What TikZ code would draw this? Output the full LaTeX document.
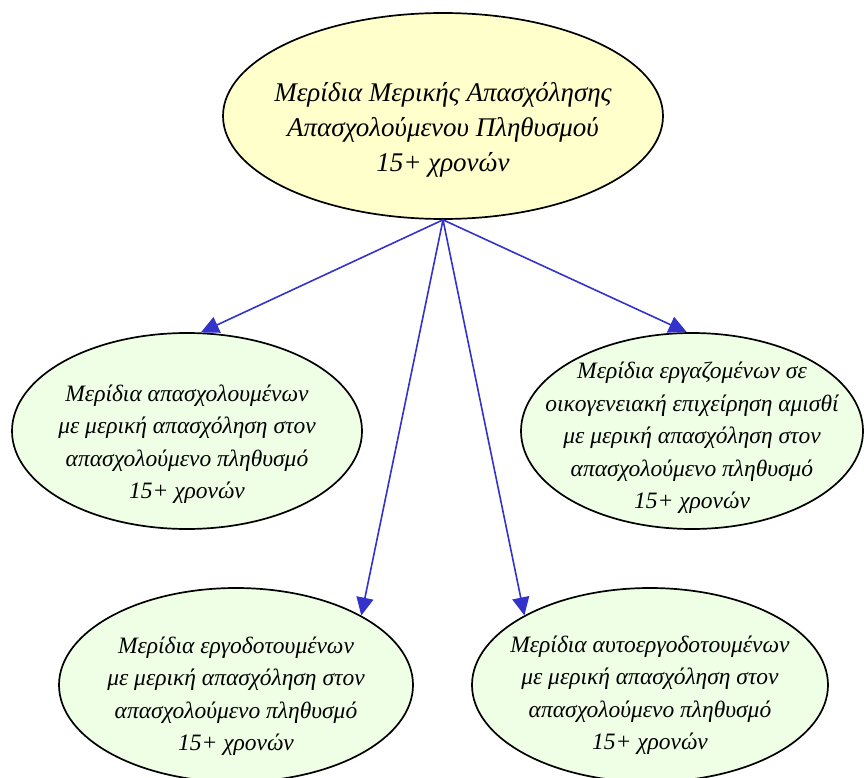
\documentclass[tikz,border=0pt]{standalone}
\usepackage{fontspec}
\setmainfont{Liberation Serif}
\usepackage{xcolor}
\usetikzlibrary{shapes.geometric}
\usetikzlibrary{arrows.meta}

\definecolor{topfill}{HTML}{FFFFCC}
\definecolor{subfill}{HTML}{EEFFE6}
\definecolor{arrowblue}{HTML}{3333CC}

\begin{document}
\begin{tikzpicture}[x=1pt,y=-1pt,
    bubble/.style={ellipse,draw=black,line width=1.7pt,fill=subfill,inner sep=0pt},
    mainbubble/.style={bubble,fill=topfill},
    bubbletext/.style={align=center,inner sep=0pt,yshift=-9pt,font=\itshape\fontsize{23.5}{32.5}\selectfont},
    maintext/.style={bubbletext,yshift=-5pt,font=\itshape\fontsize{27}{35}\selectfont},
    link/.style={draw=arrowblue,line width=1.6pt,-{Triangle[length=18pt,width=17pt]}}]
        \useasboundingbox (0,0) rectangle (864,778);
        \node[mainbubble,minimum width=440pt,minimum height=206pt] (top) at (443,116) {};
        \node[maintext] at (top)
            {Μερίδια Μερικής Απασχόλησης\\Απασχολούμενου Πληθυσμού\\15+ χρονών};
        \node[bubble,minimum width=350pt,minimum height=196pt] (left) at (187,431) {};
        \node[bubbletext,yshift=-4pt] at (left)
            {Μερίδια απασχολουμένων\\με μερική απασχόληση στον\\απασχολούμενο πληθυσμό\\15+ χρονών};
        \node[bubble,minimum width=342pt,minimum height=196pt] (right) at (692,431) {};
        \node[bubbletext,yshift=2pt] at (right)
            {Μερίδια εργαζομένων σε\\οικογενειακή επιχείρηση αμισθί\\με μερική απασχόληση στον\\απασχολούμενο πληθυσμό\\15+ χρονών};
        \node[bubble,minimum width=354pt,minimum height=194pt] (botleft) at (236,685) {};
        \node[bubbletext,yshift=-2pt] at (botleft)
            {Μερίδια εργοδοτουμένων\\με μερική απασχόληση στον\\απασχολούμενο πληθυσμό\\15+ χρονών};
        \node[bubble,minimum width=356pt,minimum height=194pt] (botright) at (650,685) {};
        \node[bubbletext,yshift=-1pt] at (botright)
            {Μερίδια αυτοεργοδοτουμένων\\με μερική απασχόληση στον\\απασχολούμενο πληθυσμό\\15+ χρονών};
        \coordinate (hub) at (top.south);
        \draw[link] (hub) -- (left.82);
        \draw[link] (hub) -- (botleft.29);
        \draw[link] (hub) -- (botright.151);
        \draw[link] (hub) -- (right.93);
    \end{tikzpicture}
\end{document}
